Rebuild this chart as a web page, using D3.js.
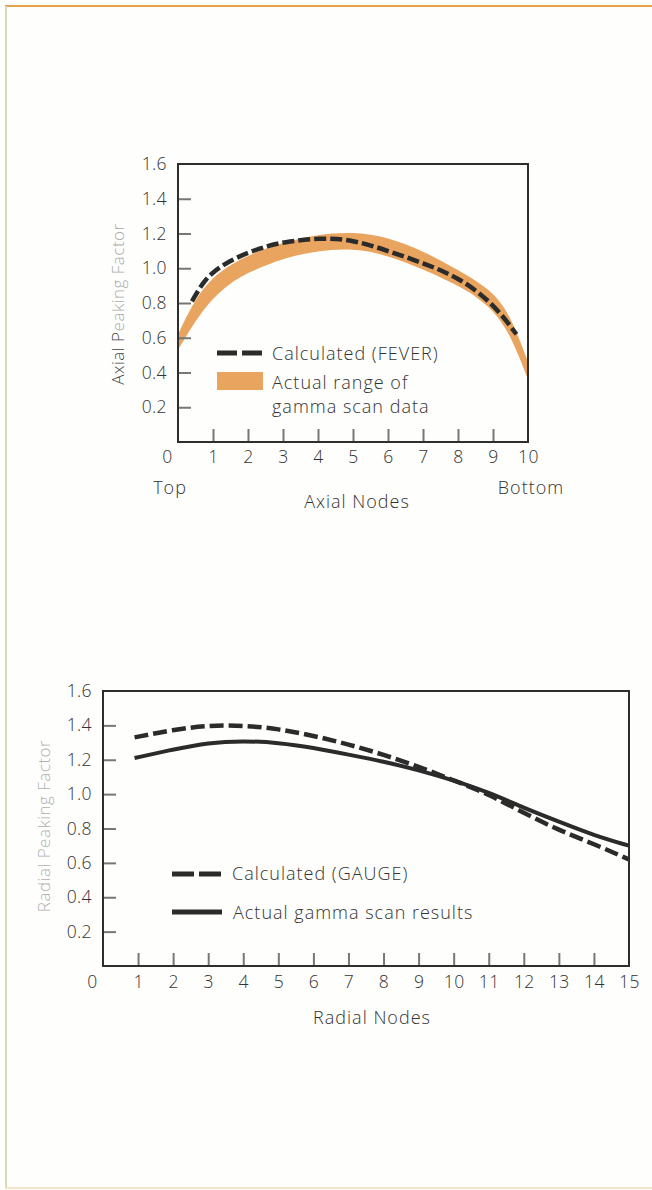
<!DOCTYPE html>
<meta charset="utf-8">
<style>
body { margin: 0; background: #fefefc; }
svg text { font-family: "Open Sans", "Liberation Sans", Arial, sans-serif; font-weight: 300; fill: #333; letter-spacing: 1px; }
.axis path { display: none; }
.axis line { stroke: #777; stroke-width: 2px; }
.axis text { font-size: 17.5px; letter-spacing: 0.4px; }
.frame { fill: none; stroke: #2e2e2e; stroke-width: 2px; }
</style>
<svg width="652" height="1190"></svg>
<script src="https://cdnjs.cloudflare.com/ajax/libs/d3/7.8.5/d3.min.js"></script>
<script>

// axial chart data
var axialNodes = [0, 0.5, 1, 1.5, 2, 3, 4, 5, 6, 7, 8, 8.5, 9, 9.5, 10];
var axialUpper = [0.62, 0.83, 0.95, 1.02, 1.075, 1.15, 1.195, 1.21, 1.18, 1.10, 0.99, 0.93, 0.86, 0.73, 0.46];
var axialLower = [0.53, 0.70, 0.83, 0.915, 0.975, 1.06, 1.10, 1.115, 1.075, 0.995, 0.90, 0.84, 0.76, 0.62, 0.36];
var feverNodes = [0.4, 0.7, 1, 1.5, 2, 2.5, 3, 4, 5, 6, 7, 8, 9, 9.67];
var feverValues = [0.81, 0.915, 0.98, 1.045, 1.09, 1.125, 1.15, 1.175, 1.165, 1.10, 1.03, 0.95, 0.80, 0.62];

// radial chart data
var radialNodes = [0.9, 2, 3, 4, 5, 6, 7, 8, 9, 10, 11, 12, 13, 14, 15];
var gaugeValues = [1.33, 1.375, 1.40, 1.40, 1.38, 1.34, 1.29, 1.23, 1.16, 1.08, 1.00, 0.89, 0.79, 0.71, 0.62];
var scanValues = [1.21, 1.26, 1.30, 1.31, 1.30, 1.27, 1.23, 1.19, 1.14, 1.08, 1.01, 0.92, 0.84, 0.76, 0.70];

var yTicks = [0.2, 0.4, 0.6, 0.8, 1.0, 1.2, 1.4, 1.6];
var axialTicks = d3.range(0, 11);
var radialTicks = d3.range(0, 16);

var svg = d3.select("svg");

// page frame
svg.append("line").attr("x1", 5).attr("x2", 652).attr("y1", 6).attr("y2", 6)
    .attr("stroke", "#e2a446").attr("stroke-width", 2);
svg.append("line").attr("x1", 6).attr("x2", 6).attr("y1", 6).attr("y2", 1188)
    .attr("stroke", "#d9d8b8").attr("stroke-width", 2);
svg.append("line").attr("x1", 5).attr("x2", 652).attr("y1", 1188).attr("y2", 1188)
    .attr("stroke", "#f0dcc0").attr("stroke-width", 1.5);

function drawAxes(g, x, y, ticks, pad) {
  var xAxis = g.append("g").attr("class", "axis")
      .attr("transform", "translate(0," + y(0) + ")")
      .call(d3.axisBottom(x).tickValues(ticks).tickSizeInner(-13).tickPadding(pad)
        .tickFormat(d3.format("d")));
  xAxis.selectAll(".tick line").filter(function(d) { return d == 0 || d == ticks[ticks.length - 1]; }).remove();
  xAxis.selectAll(".tick text").filter(function(d) { return d == 0; }).attr("dx", -11);

  var yAxis = g.append("g").attr("class", "axis")
      .attr("transform", "translate(" + x(0) + ",0)")
      .call(d3.axisLeft(y).tickValues(yTicks).tickSizeInner(-13).tickPadding(11)
        .tickFormat(d3.format(".1f")));
  yAxis.selectAll(".tick line").filter(function(d) { return d == 1.6; }).remove();

  g.append("rect").attr("class", "frame")
      .attr("x", x(0)).attr("y", y(1.6))
      .attr("width", x(ticks[ticks.length - 1]) - x(0))
      .attr("height", y(0) - y(1.6));
}

// ---- axial chart ----
var x1 = d3.scaleLinear().domain([0, 10]).range([178, 528]);
var y1 = d3.scaleLinear().domain([0, 1.6]).range([442, 164]);
var g1 = svg.append("g");

var band = axialNodes.map(function(n, i) { return { x: n, lo: axialLower[i], hi: axialUpper[i] }; });
g1.append("path").datum(band)
    .attr("fill", "#e9a45f")
    .attr("d", d3.area().curve(d3.curveBasis)
      .x(function(d) { return x1(d.x); })
      .y0(function(d) { return y1(d.lo); })
      .y1(function(d) { return y1(d.hi); }));

g1.append("path").datum(d3.zip(feverNodes, feverValues))
    .attr("fill", "none").attr("stroke", "#2b2b2b").attr("stroke-width", 4.5)
    .attr("stroke-dasharray", "12,4")
    .attr("d", d3.line().curve(d3.curveBasis)
      .x(function(d) { return x1(d[0]); })
      .y(function(d) { return y1(d[1]); }));

drawAxes(g1, x1, y1, axialTicks, 9);

g1.append("text").attr("transform", "translate(124,304) rotate(-90)")
    .attr("text-anchor", "middle").style("font-size", "17px").style("letter-spacing", "0.5px")
    .call(function(t) {
      t.append("tspan").style("fill", "#444").text("Axial P");
      t.append("tspan").style("fill", "#aaa").text("eaking Factor");
    });
g1.append("text").attr("x", 170).attr("y", 494).attr("text-anchor", "middle")
    .style("font-size", "18px").text("Top");
g1.append("text").attr("x", 531).attr("y", 494).attr("text-anchor", "middle")
    .style("font-size", "18px").text("Bottom");
g1.append("text").attr("x", 357).attr("y", 508).attr("text-anchor", "middle")
    .style("font-size", "18px").text("Axial Nodes");

// legend
g1.append("line").attr("x1", 217).attr("x2", 263).attr("y1", 353).attr("y2", 353)
    .attr("stroke", "#2b2b2b").attr("stroke-width", 5).attr("stroke-dasharray", "20,5");
g1.append("text").attr("x", 272).attr("y", 360).style("font-size", "18px").text("Calculated (FEVER)");
g1.append("rect").attr("x", 217).attr("y", 372).attr("width", 46).attr("height", 18).attr("fill", "#e9a45f");
g1.append("text").attr("x", 272).attr("y", 389).style("font-size", "18px").text("Actual range of");
g1.append("text").attr("x", 272).attr("y", 413).style("font-size", "18px").text("gamma scan data");

// ---- radial chart ----
var x2 = d3.scaleLinear().domain([0, 15]).range([103, 629]);
var y2 = d3.scaleLinear().domain([0, 1.6]).range([966, 691]);
var g2 = svg.append("g");

var line2 = d3.line().curve(d3.curveBasis)
    .x(function(d) { return x2(d[0]); })
    .y(function(d) { return y2(d[1]); });

g2.append("path").datum(d3.zip(radialNodes, scanValues))
    .attr("fill", "none").attr("stroke", "#2b2b2b").attr("stroke-width", 4)
    .attr("d", line2);
g2.append("path").datum(d3.zip(radialNodes, gaugeValues))
    .attr("fill", "none").attr("stroke", "#2b2b2b").attr("stroke-width", 4.5)
    .attr("stroke-dasharray", "14,5")
    .attr("d", line2);

drawAxes(g2, x2, y2, radialTicks, 10);

g2.append("text").attr("transform", "translate(50,826) rotate(-90)")
    .attr("text-anchor", "middle").style("font-size", "17px").style("letter-spacing", "0.5px")
    .style("fill", "#b0b0b0")
    .text("Radial Peaking Factor");
g2.append("text").attr("x", 372).attr("y", 1024).attr("text-anchor", "middle")
    .style("font-size", "18px").text("Radial Nodes");

g2.append("line").attr("x1", 172).attr("x2", 222).attr("y1", 874).attr("y2", 874)
    .attr("stroke", "#2b2b2b").attr("stroke-width", 5).attr("stroke-dasharray", "22,5");
g2.append("text").attr("x", 232).attr("y", 880).style("font-size", "18px").text("Calculated (GAUGE)");
g2.append("line").attr("x1", 172).attr("x2", 222).attr("y1", 912).attr("y2", 912)
    .attr("stroke", "#2b2b2b").attr("stroke-width", 5);
g2.append("text").attr("x", 233).attr("y", 919).style("font-size", "18px").text("Actual gamma scan results");

</script>
